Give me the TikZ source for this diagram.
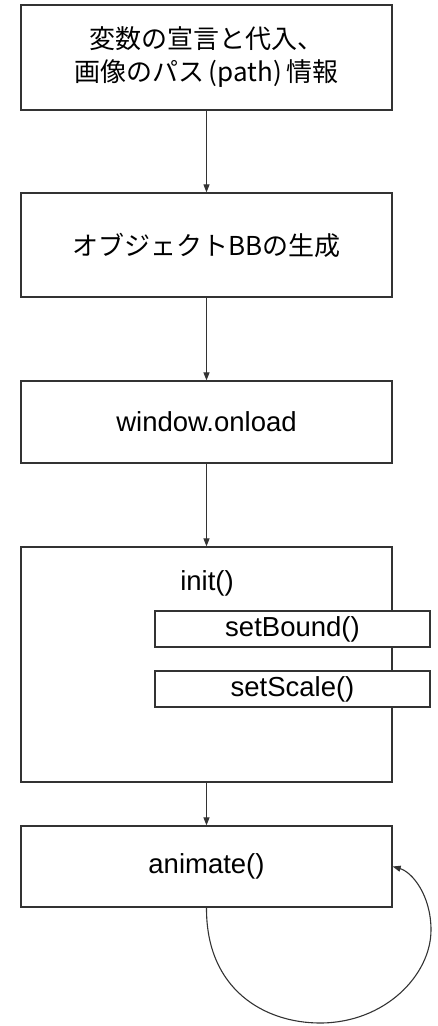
\documentclass[tikz,border=0pt]{standalone}
\usepackage{fontspec}
\setmainfont{Liberation Sans}
\newfontfamily\cjk{Noto Sans CJK JP}
\usetikzlibrary{arrows.meta}
\definecolor{linegray}{HTML}{333333}
\tikzset{
  flowbox/.style={draw=linegray, line width=1.3pt, fill=white, rectangle,
    minimum width=371pt, inner sep=0pt, align=center,
    font=\fontsize{27.5}{34}\selectfont},
  subbox/.style={draw=linegray, line width=1.3pt, fill=white, rectangle,
    minimum width=275pt, minimum height=36pt, inner sep=0pt,
    font=\fontsize{27.5}{34}\selectfont},
  flow/.style={draw=linegray, line width=1.1pt,
    -{Triangle[length=8pt,width=6pt]}},
}
\begin{document}
\begin{tikzpicture}[x=1pt, y=-1pt]
\useasboundingbox (0,0) rectangle (437,1026);
% main sequence of steps
\node[flowbox, minimum height=105pt] (decl) at (206.5,57.5)
  {\cjk\fontsize{26}{34}\selectfont 変数の宣言と代入、\\[-1pt]\cjk\fontsize{26}{34}\selectfont 画像のパス\,(path)\,情報};
\node[flowbox, minimum height=104pt] (obj) at (206.5,245)
  {\cjk\fontsize{26}{34}\selectfont オブジェクトBBの生成};
\node[flowbox, minimum height=82pt] (onload) at (206.5,422) {window.onload};
\node[flowbox, minimum height=235pt] (init) at (206.5,664.5) {};
\node[font=\fontsize{27.5}{34}\selectfont] (initlabel) at (207,583) {init()};
\node[subbox] (bound) at (292.5,629) {setBound()};
\node[subbox] (scale) at (292.5,689) {setScale()};
\node[flowbox, minimum height=81pt] (anim) at (206.5,866.5) {animate()};
% connectors
\draw[flow] (decl.south) -- (obj.north);
\draw[flow] (obj.south) -- (onload.north);
\draw[flow] (onload.south) -- (init.north);
\draw[flow] (init.south) -- (anim.north);
% animation loop back into animate()
\coordinate (loopbottom) at (320,1023);
\coordinate (loopright) at (431,930);
\draw[flow] (anim.south) .. controls (206,990) and (265,1023) .. (loopbottom)
  .. controls (385,1023) and (431,975) .. (loopright)
  .. controls (431,895) and (412,872) .. (anim.east);
\end{tikzpicture}
\end{document}
